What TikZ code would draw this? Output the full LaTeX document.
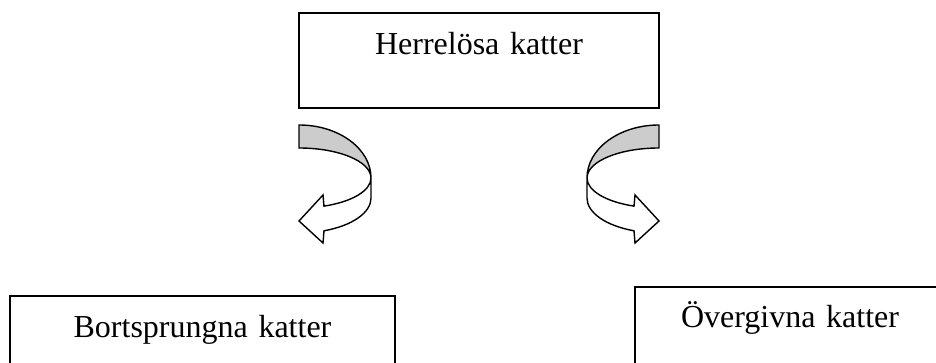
\documentclass[tikz,border=0pt]{standalone}
\usepackage{fontspec}
\setmainfont{Liberation Serif}
\usepackage{tikz}

\begin{document}
\begin{tikzpicture}[x=1pt, y=-1pt, line width=1.4pt,
    box/.style = {draw, rectangle, anchor=north west, inner sep=0pt, outer sep=0pt,
                  align=center, line width=1.6pt, font=\fontsize{32}{38}\selectfont},
    band/.pic = {
        % twisted upper part
        \filldraw[fill=black!20] (0,-53) arc[start angle=-90, end angle=0, x radius=72, y radius=53]
            arc[start angle=0, end angle=-90, x radius=72, y radius=30] -- cycle;
        % lower part with the head
        \filldraw[fill=white] (72,0) arc[start angle=0, end angle=69.7, x radius=72, y radius=30]
            -- (24,17) -- (0,43) -- (24,65) -- (25,52.8)
            arc[start angle=69.7, end angle=0, x radius=72, y radius=35] -- cycle;
    }]
    \path[use as bounding box, clip] (0,0) rectangle (936,363);

    \node[box, line width=2.2pt, text width=360pt, text height=42pt, text depth=53pt] (herr) at (299,13) {Herrelösa katter};
    \node[box, text width=385pt, text height=41pt, text depth=60pt] (bort) at (10,296) {Bortsprungna katter};
    \node[box, text width=310pt, text height=40pt, text depth=60pt] (overg) at (635,287) {Övergivna katter};

    \pic at ([yshift=-70pt]herr.south west) {band};
    \pic[xscale=-1] at ([yshift=-70pt]herr.south east) {band};

\end{tikzpicture}
\end{document}
